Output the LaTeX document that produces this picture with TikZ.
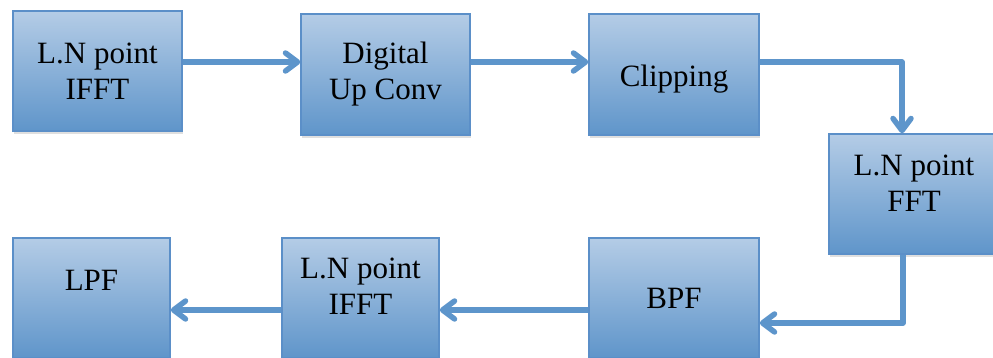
\documentclass[tikz,border=0pt]{standalone}
\usepackage{fontspec}
\setmainfont{Liberation Serif}
\usetikzlibrary{arrows.meta,shadows}
\definecolor{boxtop}{HTML}{B4CCE6}
\definecolor{boxbot}{HTML}{5F95CA}
\definecolor{boxline}{HTML}{5B8FC8}
\definecolor{arrowc}{HTML}{5D95CB}
\tikzset{
  blk/.style={draw=boxline, line width=1.5pt, top color=boxtop, bottom color=boxbot,
    minimum height=120pt, inner sep=0pt, align=center,
    font=\fontsize{31}{36}\selectfont,
    drop shadow={shadow xshift=1pt, shadow yshift=-3pt, opacity=0.25}},
  arr/.style={draw=arrowc, line width=5.5pt, line join=round,
    -{Straight Barb[round,length=12pt,width=18pt]}}
}
\begin{document}
\begin{tikzpicture}[x=1pt,y=-1pt]
\useasboundingbox (0,0) rectangle (993,358);
\node[blk, minimum width=169pt] (b1) at (97.5,71) {L.N point\\IFFT};
\node[blk, minimum width=169pt, minimum height=121pt] (b2) at (385.5,74.5) {Digital\\Up Conv};
\node[blk, minimum width=170pt, minimum height=121pt, text height=31pt] (clip) at (674,74.5) {Clipping};
\node[blk, minimum width=170pt, text depth=22pt] (fft) at (914,194) {L.N point\\FFT};
\node[blk, minimum width=170pt] (bpf) at (674,298) {BPF};
\node[blk, minimum width=157pt, text depth=23pt] (ifftb) at (360.5,298) {L.N point\\IFFT};
\node[blk, minimum width=157pt, text depth=35pt] (lpf) at (91.5,298) {LPF};
\draw[arr] ([yshift=9pt]b1.east) -- ([yshift=12.5pt]b2.west);
\draw[arr] ([yshift=12.5pt]b2.east) -- ([yshift=12.5pt]clip.west);
\draw[arr] ([yshift=12.5pt]clip.east) -| ([xshift=-12pt]fft.north);
\draw[arr] ([xshift=-11pt]fft.south) |- ([yshift=-25pt]bpf.east);
\draw[arr] ([yshift=-12pt]bpf.west) -- ([yshift=-12pt]ifftb.east);
\draw[arr] ([yshift=-12pt]ifftb.west) -- ([yshift=-12pt]lpf.east);
\end{tikzpicture}
\end{document}
